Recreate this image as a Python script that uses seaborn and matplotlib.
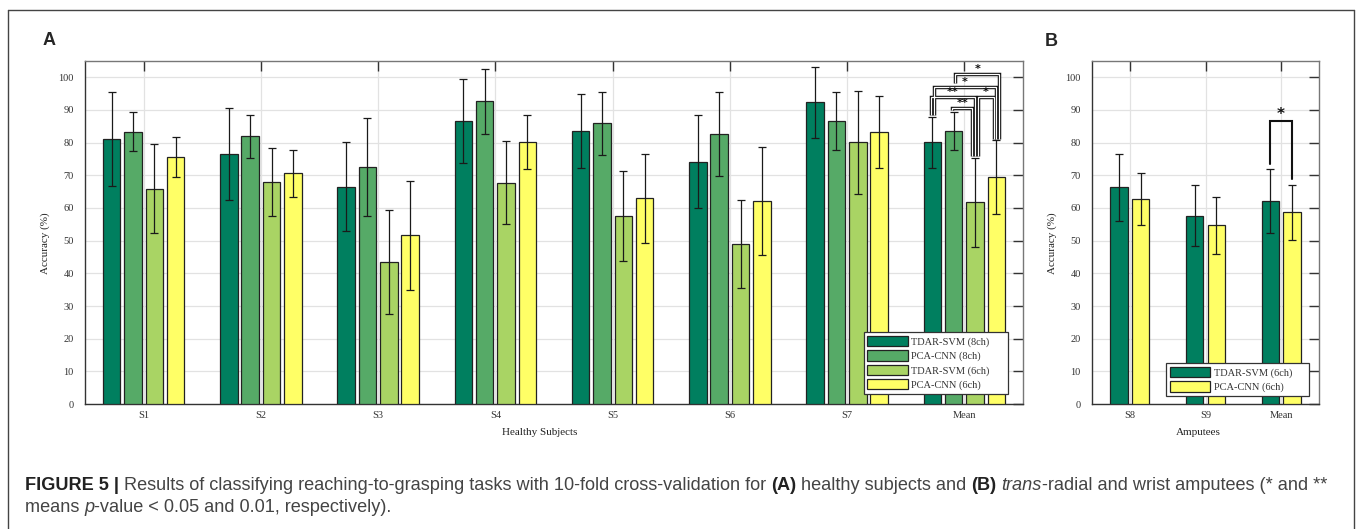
import numpy as np
import pandas as pd
import matplotlib
matplotlib.use("Agg")
import matplotlib.pyplot as plt
from matplotlib.lines import Line2D
import seaborn as sns

# ---------------- data ----------------
subjects_A = ["S1", "S2", "S3", "S4", "S5", "S6", "S7", "Mean"]
methods_A = ["TDAR-SVM (8ch)", "PCA-CNN (8ch)", "TDAR-SVM (6ch)", "PCA-CNN (6ch)"]
tdar8_mean = [81.1, 76.5, 66.5, 86.6, 83.5, 74.2, 92.3, 80.1]
tdar8_sd = [14.3, 14.1, 13.6, 12.8, 11.3, 14.3, 10.8, 7.9]
pca8_mean = [83.4, 81.9, 72.4, 92.7, 85.9, 82.6, 86.7, 83.7]
pca8_sd = [6.0, 6.5, 15.0, 10.0, 9.6, 12.9, 8.9, 5.8]
tdar6_mean = [65.9, 67.9, 43.5, 67.8, 57.5, 48.9, 80.1, 61.7]
tdar6_sd = [13.6, 10.5, 15.8, 12.8, 13.8, 13.5, 15.8, 13.7]
pca6_mean = [75.5, 70.6, 51.7, 80.1, 63.0, 62.1, 83.2, 69.4]
pca6_sd = [6.1, 7.2, 16.7, 8.3, 13.6, 16.6, 11.0, 11.3]

subjects_B = ["S8", "S9", "Mean"]
methods_B = ["TDAR-SVM (6ch)", "PCA-CNN (6ch)"]
tdar6_amp_mean = [66.3, 57.7, 62.0]
tdar6_amp_sd = [10.35, 9.3, 9.8]
pca6_amp_mean = [62.7, 54.7, 58.7]
pca6_amp_sd = [8.0, 8.7, 8.35]

# significance brackets (bar index i, bar index j, bracket level, label) in the "Mean" group
sig_A = [(1, 3, 101.0, "*"), (0, 3, 97.1, "*"), (0, 2, 93.9, "**"),
         (1, 2, 90.5, "**"), (2, 3, 93.9, "*")]
sig_B = [(0, 1, 86.7, "*")]

yticks = list(range(0, 101, 10))

colors_A = ["#007F5F", "#56AA67", "#A9D464", "#FFFF66"]
colors_B = ["#007F5F", "#FFFF66"]

# ---------------- style ----------------
sns.set_theme(style="white")
plt.rcParams["font.family"] = ["Liberation Serif", "DejaVu Serif"]
plt.rcParams["axes.unicode_minus"] = False

W, H = 1357, 529
fig = plt.figure(figsize=(W / 100, H / 100), dpi=100)

def px_axes(l, r, b, t):
    return fig.add_axes([l / W, 1 - b / H, (r - l) / W, (b - t) / H])

axA = px_axes(85, 1023, 404, 61)
axB = px_axes(1092, 1319, 404, 61)

dfA = pd.DataFrame({
    "subject": subjects_A * 4,
    "method": sum([[m] * len(subjects_A) for m in methods_A], []),
    "acc": tdar8_mean + pca8_mean + tdar6_mean + pca6_mean,
    "sd": tdar8_sd + pca8_sd + tdar6_sd + pca6_sd,
})
dfB = pd.DataFrame({
    "subject": subjects_B * 2,
    "method": sum([[m] * len(subjects_B) for m in methods_B], []),
    "acc": tdar6_amp_mean + pca6_amp_mean,
    "sd": tdar6_amp_sd + pca6_amp_sd,
})


def draw_panel(ax, df, subjects, methods, colors, width, gap, xlabel, xlab_x, ylab_x, legend_box):
    sns.barplot(data=df, x="subject", y="acc", hue="method", order=subjects,
                hue_order=methods, palette=colors, saturation=1, width=width, gap=gap,
                errorbar=None, edgecolor="#222222", linewidth=0.9, legend=False,
                ax=ax, zorder=3)
    bar_conts = list(ax.containers)
    centers = {}
    tops = {}
    for k, (cont, m) in enumerate(zip(bar_conts, methods)):
        sub = df[df["method"] == m].set_index("subject").loc[subjects]
        xs = [p.get_x() + p.get_width() / 2 for p in cont.patches]
        hs = [p.get_height() for p in cont.patches]
        ax.errorbar(xs, hs, yerr=sub["sd"].values, fmt="none", ecolor="#1a1a1a",
                    elinewidth=0.9, capsize=2.6, capthick=0.9, zorder=4)
        centers[k] = xs
        tops[k] = [h + s for h, s in zip(hs, sub["sd"].values)]
    ax.set_ylim(0, 105)
    ax.set_xlim(-0.5, len(subjects) - 0.5)
    ax.set_yticks(yticks)
    ax.set_yticklabels([str(v) for v in yticks])
    ax.grid(True, color="#e2e2e2", lw=0.9)
    ax.set_axisbelow(True)
    for s in ax.spines.values():
        s.set_visible(True)
        s.set_color("#333333")
        s.set_linewidth(1.0)
    ax.spines["top"].set_color("#777777")
    ax.spines["right"].set_color("#777777")
    ax.tick_params(axis="both", which="major", direction="in", length=7, width=1.0,
                   top=True, right=True, labelsize=7.5, labelcolor="#333333", colors="#333333")
    ax.tick_params(axis="y", pad=8)
    ax.tick_params(axis="x", pad=5)
    for t in ax.xaxis.get_major_ticks():
        t.tick1line.set_color("#aaaaaa")
        t.tick1line.set_markersize(4)
        t.tick2line.set_color("#333333")
    ax.set_xlabel(xlabel, fontsize=8, color="#222222")
    ax.xaxis.set_label_coords(xlab_x, -0.07)
    ax.set_ylabel("Accuracy (%)", fontsize=8, color="#222222")
    ax.yaxis.set_label_coords(ylab_x, 0.47)
    handles = [c.patches[0] for c in bar_conts]
    x0, y0, w, h = legend_box
    leg = ax.legend(handles, methods, loc="lower left", bbox_to_anchor=(x0, y0, w, h),
                    mode="expand", fontsize=7.5, handlelength=3.85, handleheight=1.15,
                    handletextpad=0.33, labelspacing=0.34, borderpad=0.38,
                    borderaxespad=0, fancybox=False, framealpha=1, edgecolor="#333333")
    leg.get_frame().set_linewidth(0.9)
    leg.set_zorder(10)
    for t in leg.get_texts():
        t.set_color("#333333")
    return centers, tops


cA, tA = draw_panel(axA, dfA, subjects_A, methods_A, colors_A, 0.73, 0.18,
                    "Healthy Subjects", 0.485, -0.037, (0.830, 0.029, 0.154, 0.18))
cB, tB = draw_panel(axB, dfB, subjects_B, methods_B, colors_B, 0.572, 0.2,
                    "Amputees", 0.467, -0.155, (0.326, 0.023, 0.630, 0.1))


def draw_brackets(ax, centers, tops, specs, gi, double, spread, star_size, star_dy, leg_gap):
    legs = {}
    for k, (i, j, lvl, lab) in enumerate(specs):
        legs.setdefault(i, []).append((1, lvl, k, "L"))
        legs.setdefault(j, []).append((0, lvl, k, "R"))
    legx = {}
    for b, lst in legs.items():
        lst.sort()
        n = len(lst)
        for r, (isl, lvl, k, side) in enumerate(lst):
            legx[(k, side)] = centers[b][gi] + (r - (n - 1) / 2) * spread
    for k, (i, j, lvl, lab) in enumerate(specs):
        def bottom(b):
            lower = [s[2] for s in specs if s[2] < lvl and s[0] < b < s[1]]
            return (max(lower) + 1.3) if lower else tops[b][gi] + leg_gap
        xl, xr = legx[(k, "L")], legx[(k, "R")]
        xs = [xl, xl, xr, xr]
        ys = [bottom(i), lvl, lvl, bottom(j)]
        if double:
            ax.plot(xs, ys, color="#111111", lw=2.5, solid_joinstyle="miter",
                    solid_capstyle="butt", zorder=6)
            ax.plot(xs, ys, color="white", lw=0.9, solid_joinstyle="miter",
                    solid_capstyle="butt", zorder=7)
        else:
            ax.plot(xs, ys, color="#111111", lw=1.5, solid_joinstyle="miter", zorder=6)
        ax.text((xl + xr) / 2, lvl + star_dy, lab, ha="center", va="center",
                fontsize=star_size, fontweight="bold", family="DejaVu Sans",
                color="#111111", zorder=8)


draw_brackets(axA, cA, tA, sig_A, len(subjects_A) - 1, True, 0.024, 8, 1.6, 0.5)
draw_brackets(axB, cB, tB, sig_B, len(subjects_B) - 1, False, 0.0, 11, 2.0, 1.7)

# panel letters
fig.text(49 / W, 1 - 40 / H, "A", ha="center", va="center", fontsize=13,
         fontweight="bold", family="Liberation Sans")
fig.text(1051 / W, 1 - 41 / H, "B", ha="center", va="center", fontsize=13,
         fontweight="bold", family="Liberation Sans")

# outer frame
fc = "#444444"
fig.add_artist(Line2D([8 / W, 8 / W], [0, 1 - 10 / H], color=fc, lw=1.0))
fig.add_artist(Line2D([8 / W, 1354 / W], [1 - 10 / H, 1 - 10 / H], color=fc, lw=1.0))
fig.add_artist(Line2D([1354 / W, 1354 / W], [0, 1 - 10 / H], color=fc, lw=1.0))

# caption with mixed styles
cap1 = [("FIGURE 5 | ", "bold", "normal"),
        ("Results of classifying reaching-to-grasping tasks with 10-fold cross-validation for ", "normal", "normal"),
        ("(A)", "bold", "normal"), (" healthy subjects and ", "normal", "normal"),
        ("(B)", "bold", "normal"), (" ", "normal", "normal"), ("trans", "normal", "italic"),
        ("-radial and wrist amputees (* and **", "normal", "normal")]
cap2 = [("means ", "normal", "normal"), ("p", "normal", "italic"),
        ("-value < 0.05 and 0.01, respectively).", "normal", "normal")]

renderer = fig.canvas.get_renderer()


def draw_line(segs, y, size, draw=True):
    x = 25 / W
    arts = []
    for txt, wgt, sty in segs:
        t = fig.text(x, y, txt, fontsize=size, fontweight=wgt, fontstyle=sty,
                     family=["Liberation Sans", "DejaVu Sans"],
                     color="#222222" if wgt == "bold" else "#444444",
                     ha="left", va="center")
        bb = t.get_window_extent(renderer)
        x = bb.x1 / W
        arts.append(t)
    if not draw:
        for a in arts:
            a.remove()
    return x * W


w10 = draw_line(cap1, 0.5, 10, draw=False) - 25
size = 10 * (1330 - 25) / w10
draw_line(cap1, 1 - 486 / H, size)
draw_line(cap2, 1 - 507 / H, size)

fig.savefig("out.png", dpi=100)
